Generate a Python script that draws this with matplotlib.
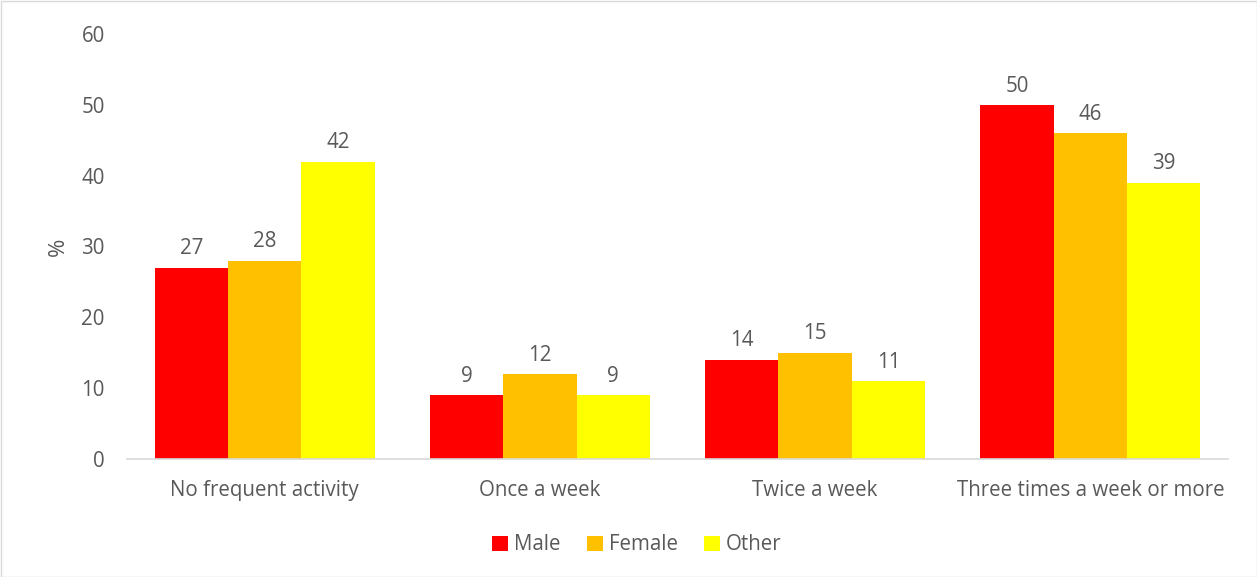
import matplotlib
matplotlib.use("Agg")
import matplotlib.pyplot as plt
import numpy as np

plt.rcParams['font.family'] = ['Open Sans', 'DejaVu Sans']

categories = ["No frequent activity", "Once a week", "Twice a week", "Three times a week or more"]
series_names = ["Male", "Female", "Other"]
male = [27, 9, 14, 50]
female = [28, 12, 15, 46]
other = [42, 9, 11, 39]
colors = ["#FF0000", "#FFC000", "#FFFF00"]
yticks = [0, 10, 20, 30, 40, 50, 60]

text_color = "#595959"
fs = 14.8

fig = plt.figure(figsize=(12.57, 5.77), dpi=100)
ax = fig.add_axes([127/1257, 1 - 459/577, (1228-127)/1257, (459-34)/577])

x = np.arange(len(categories))
w = 0.8 / 3
for i, (vals, name, c) in enumerate(zip([male, female, other], series_names, colors)):
    bars = ax.bar(x + (i - 1) * w, vals, width=w, color=c, label=name)
    for b, v in zip(bars, vals):
        ax.annotate(f"{v}", (b.get_x() + b.get_width() / 2, v), xytext=(0, 6),
                    textcoords="offset points", ha="center", va="bottom",
                    fontsize=fs, color=text_color)

ax.set_xlim(-0.5, 3.5)
ax.set_ylim(0, 60)
ax.set_yticks(yticks)
ax.set_xticks(x)
ax.set_xticklabels(categories)
ax.tick_params(axis='both', length=0, labelsize=fs, labelcolor=text_color)
ax.tick_params(axis='y', pad=16)
ax.tick_params(axis='x', pad=15)
for s in ["top", "right", "left"]:
    ax.spines[s].set_visible(False)
ax.spines["bottom"].set_color("#D9D9D9")
ax.spines["bottom"].set_linewidth(1.2)
ax.set_ylabel("%", fontsize=16, color=text_color, labelpad=9)

leg = fig.legend(loc="center", bbox_to_anchor=(637/1257, 1 - 545/577), ncol=3, frameon=False,
                 fontsize=fs, handlelength=0.75, handleheight=0.75, handletextpad=0.3,
                 columnspacing=1.3)
for t in leg.get_texts():
    t.set_color(text_color)

border = plt.Rectangle((0.5/1257, 0.5/577), 1 - 1/1257, 1 - 1/577, transform=fig.transFigure,
                       fill=False, edgecolor="#D9D9D9", linewidth=1)
fig.patches.append(border)

fig.savefig("out.png", dpi=100, facecolor="white")
